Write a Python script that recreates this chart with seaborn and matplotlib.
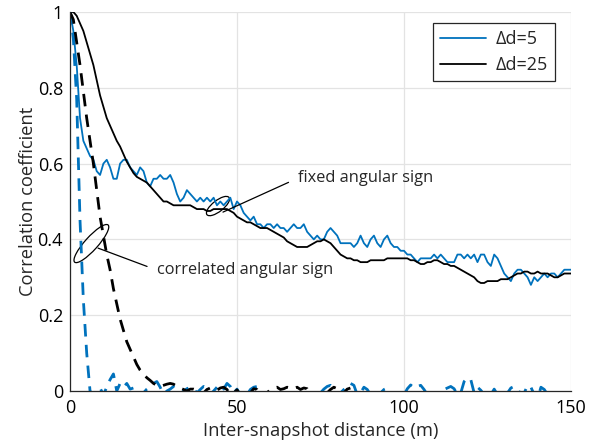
import numpy as np
import pandas as pd
import matplotlib
matplotlib.use("Agg")
import matplotlib.pyplot as plt
import matplotlib.transforms as mtransforms
from matplotlib.patches import Ellipse
import seaborn as sns

# ---------------- data ----------------
distance = list(range(0, 151))

fixed_d5 = [
    1.00, 0.95, 0.86, 0.72, 0.66, 0.64, 0.62, 0.61, 0.58, 0.57,
    0.60, 0.61, 0.59, 0.56, 0.56, 0.60, 0.61, 0.61, 0.59, 0.58,
    0.57, 0.59, 0.58, 0.55, 0.54, 0.56, 0.56, 0.57, 0.56, 0.56,
    0.57, 0.55, 0.52, 0.50, 0.51, 0.53, 0.52, 0.51, 0.50, 0.51,
    0.50, 0.51, 0.50, 0.51, 0.49, 0.50, 0.49, 0.50, 0.51, 0.48,
    0.50, 0.49, 0.47, 0.46, 0.45, 0.46, 0.44, 0.44, 0.43, 0.44,
    0.44, 0.43, 0.44, 0.43, 0.43, 0.42, 0.43, 0.44, 0.43, 0.43,
    0.44, 0.42, 0.41, 0.40, 0.41, 0.40, 0.40, 0.42, 0.43, 0.42,
    0.41, 0.39, 0.39, 0.39, 0.39, 0.38, 0.39, 0.41, 0.39, 0.38,
    0.40, 0.41, 0.39, 0.38, 0.40, 0.41, 0.39, 0.38, 0.38, 0.37,
    0.37, 0.36, 0.36, 0.35, 0.34, 0.35, 0.35, 0.35, 0.35, 0.36,
    0.35, 0.36, 0.35, 0.34, 0.34, 0.34, 0.36, 0.36, 0.35, 0.36,
    0.35, 0.36, 0.34, 0.36, 0.36, 0.34, 0.33, 0.36, 0.35, 0.33,
    0.31, 0.30, 0.29, 0.31, 0.32, 0.32, 0.31, 0.30, 0.28, 0.30,
    0.29, 0.30, 0.31, 0.30, 0.31, 0.31, 0.30, 0.31, 0.32, 0.32,
    0.32,
]

fixed_d25 = [
    1.00, 1.00, 0.99, 0.97, 0.95, 0.92, 0.89, 0.86, 0.82, 0.78,
    0.75, 0.72, 0.70, 0.68, 0.66, 0.645, 0.625, 0.605, 0.59, 0.575,
    0.565, 0.56, 0.555, 0.55, 0.54, 0.53, 0.52, 0.51, 0.50, 0.50,
    0.495, 0.49, 0.49, 0.49, 0.49, 0.49, 0.49, 0.485, 0.48, 0.48,
    0.48, 0.475, 0.475, 0.48, 0.48, 0.48, 0.48, 0.48, 0.475, 0.47,
    0.46, 0.455, 0.45, 0.445, 0.445, 0.44, 0.435, 0.43, 0.43, 0.43,
    0.425, 0.42, 0.415, 0.41, 0.405, 0.395, 0.39, 0.385, 0.38, 0.38,
    0.38, 0.38, 0.385, 0.39, 0.395, 0.395, 0.40, 0.395, 0.39, 0.38,
    0.37, 0.36, 0.355, 0.35, 0.35, 0.345, 0.345, 0.34, 0.34, 0.34,
    0.345, 0.345, 0.345, 0.345, 0.345, 0.35, 0.35, 0.35, 0.35, 0.35,
    0.35, 0.35, 0.345, 0.345, 0.34, 0.335, 0.335, 0.34, 0.34, 0.345,
    0.345, 0.34, 0.335, 0.335, 0.33, 0.33, 0.325, 0.32, 0.315, 0.31,
    0.305, 0.30, 0.29, 0.285, 0.285, 0.29, 0.29, 0.29, 0.29, 0.295,
    0.295, 0.295, 0.30, 0.305, 0.31, 0.31, 0.315, 0.315, 0.31, 0.31,
    0.315, 0.31, 0.31, 0.31, 0.305, 0.30, 0.30, 0.305, 0.31, 0.31,
    0.31,
]

corr_d5 = [
    1.00, 0.93, 0.77, 0.45, 0.24, 0.10, 0.00, -0.01, 0.00, 0.008,
    -0.01, 0.01, 0.03, 0.045, 0.00, 0.02, 0.01, 0.02, 0.005, 0.008,
    0.01, -0.01, -0.005, 0.005, 0.012, 0.02, 0.025, 0.01, -0.01, 0.00,
    0.005, 0.012, 0.008, -0.01, 0.00, 0.006, 0.01, 0.006, -0.005, 0.004,
    0.012, 0.008, -0.01, 0.00, 0.01, 0.015, 0.005, 0.02, 0.012, -0.005,
    0.005, -0.01, -0.02, -0.01, 0.004, 0.01, 0.012, 0.006, -0.01, -0.02,
    -0.01, -0.02, -0.01, -0.02, -0.015, -0.01, -0.02, -0.01, -0.02, -0.015,
    -0.01, -0.02, -0.01, -0.02, -0.01, -0.005, 0.005, 0.012, 0.015, 0.006,
    -0.01, -0.005, 0.004, 0.012, 0.02, 0.015, -0.01, -0.005, 0.01, 0.004,
    -0.01, -0.02, -0.01, -0.005, 0.004, 0.008, -0.01, -0.02, -0.01, -0.005,
    -0.01, 0.006, 0.016, 0.008, 0.012, 0.015, 0.004, -0.01, -0.02, -0.01,
    -0.02, -0.005, 0.004, 0.008, 0.012, 0.006, -0.01, -0.005, 0.025, 0.035,
    0.03, -0.005, 0.01, 0.002, -0.01, -0.02, -0.01, 0.005, -0.01, -0.02,
    -0.01, -0.005, 0.008, 0.012, 0.006, -0.01, -0.005, 0.015, 0.01, -0.01,
    -0.02, 0.01, 0.004, -0.01, -0.02, -0.01, -0.02, -0.01, -0.02, -0.01,
    -0.02,
]

corr_d25 = [
    1.00, 0.98, 0.92, 0.86, 0.79, 0.72, 0.66, 0.60, 0.53, 0.46,
    0.41, 0.36, 0.32, 0.27, 0.23, 0.19, 0.16, 0.13, 0.11, 0.09,
    0.07, 0.055, 0.045, 0.035, 0.028, 0.02, 0.015, 0.012, 0.015, 0.018,
    0.02, 0.018, 0.012, 0.008, 0.004, 0.00, 0.005, 0.005, 0.002, -0.01,
    -0.005, 0.004, 0.008, 0.006, 0.002, 0.008, 0.01, 0.004, -0.01, -0.005,
    0.003, -0.01, -0.02, -0.01, -0.005, 0.006, 0.004, -0.01, -0.02, -0.005,
    0.004, 0.008, 0.01, 0.004, 0.006, 0.01, 0.008, 0.006, 0.01, 0.004,
    0.008, 0.006, -0.01, -0.02, -0.01, -0.02, -0.01, -0.005, 0.004, 0.01,
    0.006, -0.01, -0.005, 0.005, 0.008, 0.002, -0.01, -0.02, -0.01, -0.02,
    -0.01, -0.02, -0.01, -0.02, -0.01, -0.02, -0.01, -0.02, -0.01, -0.02,
    -0.01, -0.02, -0.01, -0.02, -0.01, -0.02, -0.01, -0.02, -0.01, -0.02,
    -0.01, -0.02, -0.01, -0.02, -0.01, -0.02, -0.01, -0.02, -0.01, -0.02,
    -0.01, -0.02, -0.01, -0.02, -0.01, -0.02, -0.01, -0.02, -0.01, -0.02,
    -0.01, -0.02, -0.01, -0.02, -0.01, -0.02, -0.01, -0.02, -0.01, -0.02,
    -0.01, -0.02, -0.01, -0.02, -0.01, -0.02, -0.01, -0.02, -0.01, -0.02,
    -0.01,
]

x_ticks = [0, 50, 100, 150]
x_tick_labels = ["0", "50", "100", "150"]
y_ticks = [0, 0.2, 0.4, 0.6, 0.8, 1.0]
y_tick_labels = ["0", "0.2", "0.4", "0.6", "0.8", "1"]
series_labels = ["\u0394d=5", "\u0394d=25"]

BLUE = "#0072BD"
BLACK = "#000000"

# ---------------- style ----------------
sns.set_style("white")
plt.rcParams["font.family"] = ["Open Sans", "DejaVu Sans"]

fig = plt.figure(figsize=(5.93, 4.42), dpi=100)
ax = fig.add_axes([70 / 593, 51 / 442, 501 / 593, 379 / 442])

df = pd.DataFrame({
    "x": distance,
    "fixed_d5": fixed_d5,
    "fixed_d25": fixed_d25,
    "corr_d5": corr_d5,
    "corr_d25": corr_d25,
})

sns.lineplot(data=df, x="x", y="fixed_d5", ax=ax, color=BLUE, lw=1.3,
             label=series_labels[0])
sns.lineplot(data=df, x="x", y="fixed_d25", ax=ax, color=BLACK, lw=1.3,
             label=series_labels[1])
sns.lineplot(data=df, x="x", y="corr_d5", ax=ax, color=BLUE, lw=2.0,
             legend=False)
sns.lineplot(data=df, x="x", y="corr_d25", ax=ax, color=BLACK, lw=2.0,
             legend=False)
for ln in ax.get_lines()[2:]:
    ln.set_dashes([4.5, 3])

ax.set_xlim(0, 150)
ax.set_ylim(0, 1)
ax.set_xticks(x_ticks)
ax.set_xticklabels(x_tick_labels)
ax.set_yticks(y_ticks)
ax.set_yticklabels(y_tick_labels)
ax.grid(True, color="#e3e3e3", lw=0.9)
ax.set_axisbelow(True)
for s in ["top", "right"]:
    ax.spines[s].set_visible(False)
for s in ["left", "bottom"]:
    ax.spines[s].set_color("#262626")
    ax.spines[s].set_linewidth(0.9)
ax.tick_params(direction="in", length=4, width=0.9, color="#262626",
               labelsize=13, labelcolor="#000000")
ax.tick_params(axis="x", pad=6)
ax.tick_params(axis="y", pad=5)

ax.set_xlabel("Inter-snapshot distance (m)", fontsize=13.2, labelpad=3)
ax.set_ylabel("Correlation coefficient", fontsize=13.2, labelpad=0.5)

leg = ax.legend(loc="upper right", bbox_to_anchor=(0.968, 0.971),
                borderaxespad=0, fontsize=13, frameon=True, fancybox=False,
                framealpha=1, edgecolor="#262626", handlelength=2.55,
                borderpad=0.38, labelspacing=0.45, handletextpad=0.55)
leg.get_frame().set_linewidth(0.9)

# annotations: ellipses drawn in pixel units around data anchor points
def pixel_ellipse(cx, cy, w, h, angle):
    tr = mtransforms.Affine2D() + mtransforms.ScaledTranslation(cx, cy, ax.transData)
    e = Ellipse((0, 0), w, h, angle=angle, fill=False, ec="black", lw=0.9,
                transform=tr, clip_on=False)
    ax.add_patch(e)

pixel_ellipse(44.3, 0.488, 28, 11, 38)
pixel_ellipse(6.4, 0.389, 50, 13, 48)

ax.annotate("fixed angular sign", xy=(45.8, 0.472), xytext=(68.3, 0.562),
            fontsize=11.8, va="center", ha="left",
            arrowprops=dict(arrowstyle="-", lw=0.9, color="black",
                            shrinkA=5, shrinkB=0, relpos=(0, 0.5)))
ax.annotate("correlated angular sign", xy=(8.4, 0.377), xytext=(26.0, 0.319),
            fontsize=11.8, va="center", ha="left",
            arrowprops=dict(arrowstyle="-", lw=0.9, color="black",
                            shrinkA=5, shrinkB=0, relpos=(0, 0.5)))

fig.savefig("out.png", dpi=100)
